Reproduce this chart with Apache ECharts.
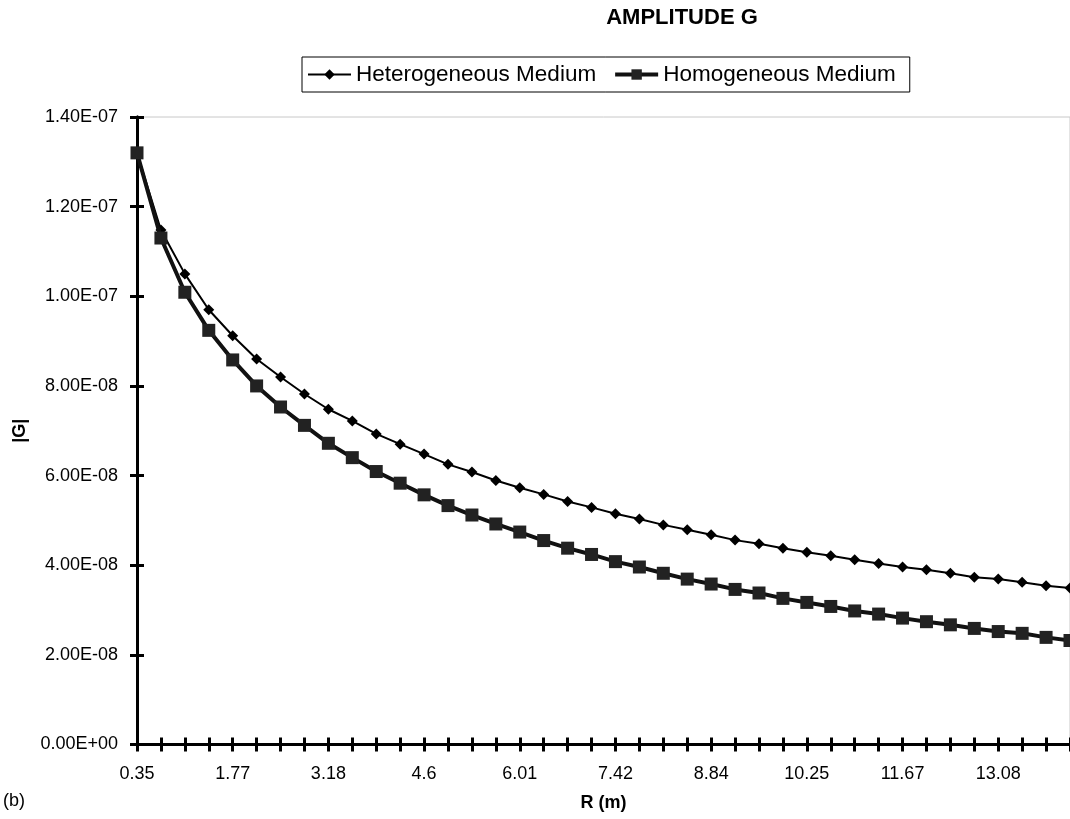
<!DOCTYPE html>
<html>
<head>
<meta charset="utf-8">
<script src="https://cdn.jsdelivr.net/npm/echarts@6/dist/echarts.min.js"></script>
<style>
html,body{margin:0;padding:0;background:#fff;}
#chart{width:1070px;height:819px;}
</style>
</head>
<body>
<div id="chart"></div>
<script>
// R (m) categories
const categories = [0.35, 0.71, 1.06, 1.41, 1.77, 2.12, 2.47, 2.83, 3.18, 3.54,
  3.89, 4.24, 4.6, 4.95, 5.3, 5.66, 6.01, 6.36, 6.72, 7.07,
  7.42, 7.78, 8.13, 8.49, 8.84, 9.19, 9.55, 9.9, 10.25, 10.61,
  10.96, 11.31, 11.67, 12.02, 12.37, 12.73, 13.08, 13.44, 13.79, 14.14];

// |G| values (units of 1e-8)
const heterogeneous = [13.2, 11.48, 10.50, 9.70, 9.12, 8.60, 8.20, 7.82, 7.48, 7.22,
  6.93, 6.70, 6.48, 6.25, 6.08, 5.89, 5.73, 5.58, 5.42, 5.29,
  5.15, 5.03, 4.90, 4.79, 4.68, 4.56, 4.48, 4.38, 4.29, 4.21,
  4.12, 4.04, 3.96, 3.90, 3.82, 3.73, 3.69, 3.62, 3.54, 3.49];
const homogeneous = [13.2, 11.30, 10.09, 9.24, 8.58, 8.00, 7.53, 7.12, 6.72, 6.40,
  6.09, 5.83, 5.57, 5.33, 5.12, 4.92, 4.74, 4.55, 4.38, 4.24,
  4.08, 3.96, 3.82, 3.69, 3.58, 3.46, 3.38, 3.26, 3.17, 3.08,
  2.98, 2.91, 2.82, 2.74, 2.67, 2.59, 2.52, 2.48, 2.39, 2.32];

const yTicks = {min: 0, max: 1.4e-7, interval: 2e-8};
const seriesNames = ['Heterogeneous Medium', 'Homogeneous Medium'];

const scale = 1e-8;
const hetData = heterogeneous.map(v => v * scale);
const homData = homogeneous.map(v => v * scale);

function sci(v) {
  if (Math.abs(v) < 1e-20) return '0.00E+00';
  const parts = v.toExponential(2).split('e');
  const e = parseInt(parts[1], 10);
  const sign = e < 0 ? '-' : '+';
  return parts[0] + 'E' + sign + String(Math.abs(e)).padStart(2, '0');
}

const FONT = '"Liberation Sans", Arial, Helvetica, sans-serif';
const chart = echarts.init(document.getElementById('chart'));

const axisLineStyle = {color: '#000', width: 3};
const option = {
  backgroundColor: '#fff',
  animation: false,
  textStyle: {fontFamily: FONT},
  graphic: [
    {type: 'text', x: 682, y: 7, style: {text: 'AMPLITUDE G', fontFamily: FONT, fontSize: 22, fontWeight: 'bold', fill: '#000', textAlign: 'center'}},
    {type: 'text', x: 3, y: 792, style: {text: '(b)', fontFamily: FONT, fontSize: 18, fill: '#000'}}
  ],
  legend: {
    left: 302, top: 57,
    data: [
      {name: seriesNames[0], lineStyle: {width: 2, color: '#000'}},
      {name: seriesNames[1], lineStyle: {width: 4, color: '#111'}}
    ],
    borderColor: '#000', borderWidth: 1,
    padding: [6, 14, 6, 5],
    itemWidth: 43, itemHeight: 13,
    itemGap: 17,
    textStyle: {fontFamily: FONT, fontSize: 22.5, color: '#000'}
  },
  grid: {
    left: 137, top: 117, width: 937, bottom: 74.5,
    show: true, borderColor: '#c8c8c8', borderWidth: 1, backgroundColor: 'transparent'
  },
  xAxis: [
    {
      type: 'category', data: categories, boundaryGap: false,
      name: 'R (m)', nameLocation: 'middle', nameGap: 50,
      nameTextStyle: {fontFamily: FONT, fontSize: 18, fontWeight: 'bold', color: '#000'},
      axisLine: {onZero: false, lineStyle: axisLineStyle},
      axisTick: {show: true, interval: 0, length: 7, lineStyle: {color: '#000', width: 3}},
      axisLabel: {interval: 3, margin: 21, fontFamily: FONT, fontSize: 18, color: '#000'},
      splitLine: {show: false}
    },
    {
      type: 'category', data: categories, boundaryGap: false, position: 'bottom',
      axisLine: {onZero: false, lineStyle: axisLineStyle},
      axisTick: {show: true, inside: true, interval: 0, length: 7, lineStyle: {color: '#000', width: 3}},
      axisLabel: {show: false},
      splitLine: {show: false}
    }
  ],
  yAxis: [
    {
      type: 'value', min: yTicks.min, max: yTicks.max, interval: yTicks.interval,
      name: '|G|', nameLocation: 'middle', nameGap: 108, nameRotate: 90,
      nameTextStyle: {fontFamily: FONT, fontSize: 18, fontWeight: 'bold', color: '#000'},
      axisLine: {show: true, lineStyle: axisLineStyle},
      axisTick: {show: true, length: 7, lineStyle: {color: '#000', width: 3}},
      axisLabel: {margin: 19, fontFamily: FONT, fontSize: 18, color: '#000', formatter: sci},
      splitLine: {show: false}
    },
    {
      type: 'value', min: yTicks.min, max: yTicks.max, interval: yTicks.interval, position: 'left',
      axisLine: {show: true, lineStyle: axisLineStyle},
      axisTick: {show: true, inside: true, length: 7, lineStyle: {color: '#000', width: 3}},
      axisLabel: {show: false},
      splitLine: {show: false}
    }
  ],
  series: [
    {
      name: seriesNames[0], type: 'line', data: hetData,
      symbol: 'diamond', symbolSize: 11, showSymbol: true,
      lineStyle: {color: '#000', width: 2},
      itemStyle: {color: '#000', borderWidth: 0},
      z: 2
    },
    {
      name: seriesNames[1], type: 'line', data: homData,
      symbol: 'rect', symbolSize: 13, showSymbol: true,
      lineStyle: {color: '#111', width: 4},
      itemStyle: {color: '#222', borderWidth: 0},
      z: 3
    }
  ]
};
chart.setOption(option);
</script>
</body>
</html>
